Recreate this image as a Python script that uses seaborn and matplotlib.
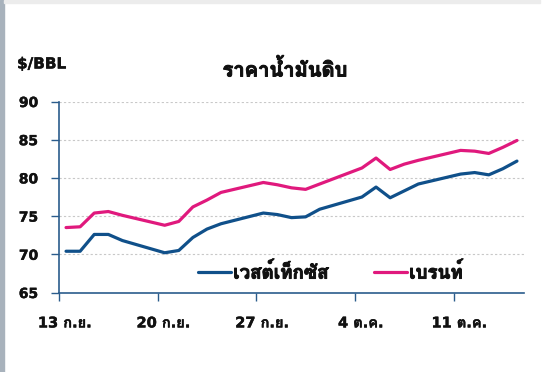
import matplotlib
matplotlib.use("Agg")
import matplotlib.pyplot as plt
from matplotlib import font_manager
import matplotlib.patheffects as pe
from matplotlib.transforms import ScaledTranslation
import seaborn as sns
import pandas as pd
from matplotlib.patches import Rectangle

# ---------------- data ----------------
dates = ["2021-09-13", "2021-09-14", "2021-09-15", "2021-09-16", "2021-09-17",
         "2021-09-20", "2021-09-21", "2021-09-22", "2021-09-23", "2021-09-24",
         "2021-09-27", "2021-09-28", "2021-09-29", "2021-09-30", "2021-10-01",
         "2021-10-04", "2021-10-05", "2021-10-06", "2021-10-07", "2021-10-08",
         "2021-10-11", "2021-10-12", "2021-10-13", "2021-10-14", "2021-10-15"]
wti = [70.4, 70.4, 72.6, 72.6, 71.8,
       70.2, 70.5, 72.2, 73.3, 74.0,
       75.4, 75.2, 74.8, 74.9, 75.9,
       77.5, 78.8, 77.4, 78.3, 79.2,
       80.5, 80.7, 80.4, 81.2, 82.2]
brent = [73.5, 73.6, 75.4, 75.6, 75.1,
         73.8, 74.3, 76.2, 77.1, 78.1,
         79.4, 79.1, 78.7, 78.5, 79.2,
         81.3, 82.6, 81.1, 81.8, 82.3,
         83.6, 83.5, 83.2, 84.0, 84.9]
series_names = ["เวสต์เท็กซัส", "เบรนท์"]
tick_dates = ["2021-09-13", "2021-09-20", "2021-09-27", "2021-10-04", "2021-10-11"]
tick_labels = ["13 ก.ย.", "20 ก.ย.", "27 ก.ย.", "4 ต.ค.", "11 ต.ค."]
y_ticks = [65, 70, 75, 80, 85, 90]
title = "ราคาน้ำมันดิบ"
unit_label = "$/BBL"

# ---------------- fonts ----------------
def find_thai_font():
    try:
        from fontTools.ttLib import TTFont
    except Exception:
        return None
    best = None
    for f in font_manager.fontManager.ttflist:
        try:
            tt = TTFont(f.fname, fontNumber=0, lazy=True)
            cmap = tt.getBestCmap()
            if cmap and 0x0E23 in cmap and 0x0E19 in cmap:
                w = f.weight if isinstance(f.weight, int) else (700 if f.weight == "bold" else 400)
                score = -abs(w - 700)
                if best is None or score > best[0]:
                    best = (score, f.name)
        except Exception:
            continue
    return best[1] if best else None

sns.set_theme(style="white")
thai = find_thai_font()
thai_list = [thai] if thai else []
plt.rcParams["font.family"] = ["DejaVu Sans"] + thai_list
mixed_family = ["DejaVu Sans"] + thai_list
thai_family = thai_list + ["DejaVu Sans"]

ink = "#111111"
bold_fx = [pe.withStroke(linewidth=0.7, foreground=ink)]
thin_fx = [pe.withStroke(linewidth=0.3, foreground=ink)]

# ---------------- figure ----------------
fig = plt.figure(figsize=(5.53, 3.72), dpi=100)
fig.patch.set_facecolor("white")
fig.patches.append(Rectangle((0, 0), 4 / 553, 1, transform=fig.transFigure,
                             color="#a8b2bc", zorder=0))
fig.patches.append(Rectangle((4 / 553, 1 - 3 / 372), 536 / 553, 3 / 372,
                             transform=fig.transFigure, color="#ececec", zorder=0))
ax = fig.add_axes([59 / 553, 1 - 292.5 / 372, 465 / 553, 191 / 372])

x = pd.to_datetime(dates) + pd.Timedelta(hours=12)
df = pd.concat([
    pd.DataFrame({"date": x, "price": wti, "series": series_names[0]}),
    pd.DataFrame({"date": x, "price": brent, "series": series_names[1]}),
])
palette = {series_names[0]: "#10508a", series_names[1]: "#e0197d"}
sns.lineplot(data=df, x="date", y="price", hue="series", palette=palette,
             linewidth=2.3, ax=ax, legend=True)

axis_col = "#2b5c8c"
ax.set_xlim(pd.Timestamp("2021-09-13"), pd.Timestamp("2021-10-16"))
ax.set_ylim(65, 90)
ax.set_yticks(y_ticks)
ax.set_xticks(pd.to_datetime(tick_dates))
ax.tick_params(axis="both", direction="out", length=6, width=1.0,
               color=axis_col, left=True, bottom=True)
ax.tick_params(axis="y", pad=9)
ax.tick_params(axis="x", pad=10.5)
ax.set_yticklabels([str(v) for v in y_ticks], fontsize=10, fontweight="bold",
                   color=ink, family=mixed_family)
ax.set_xticklabels(tick_labels, fontsize=10.5, fontweight="bold", color=ink,
                   family=mixed_family)
shift = ScaledTranslation(6 / 100, 0, fig.dpi_scale_trans)
for tick in ax.xaxis.get_major_ticks():
    lab = tick.label1
    lab.set_path_effects(thin_fx)
    lab.set_transform(lab.get_transform() + shift)
for t in ax.get_yticklabels():
    t.set_path_effects(thin_fx)
for s in ["top", "right"]:
    ax.spines[s].set_visible(False)
for s in ["left", "bottom"]:
    ax.spines[s].set_color(axis_col)
    ax.spines[s].set_linewidth(1.2)
for v in y_ticks[1:]:
    ax.axhline(v, color="#c8c8c8", linestyle=(0, (2, 2)), linewidth=0.8, zorder=0)
ax.set_xlabel("")
ax.set_ylabel("")

leg = ax.legend(loc="center", bbox_to_anchor=(0.583, 0.107), ncol=2,
                frameon=False, handlelength=1.8, handletextpad=0.1,
                columnspacing=2.4,
                prop={"size": 13.5, "weight": "bold", "family": thai_family})
for h in leg.get_lines():
    h.set_linewidth(2.3)
for t in leg.get_texts():
    t.set_color(ink)
    t.set_path_effects(bold_fx)

fig.text(285 / 553, 1 - 70 / 372, title, ha="center", va="center",
         fontsize=14.5, fontweight="bold", color=ink, family=thai_family,
         path_effects=bold_fx)
fig.text(17 / 553, 1 - 64 / 372, unit_label, ha="left", va="center",
         fontsize=11, fontweight="bold", color=ink, family=mixed_family,
         path_effects=thin_fx)

fig.savefig("out.png", dpi=100)
